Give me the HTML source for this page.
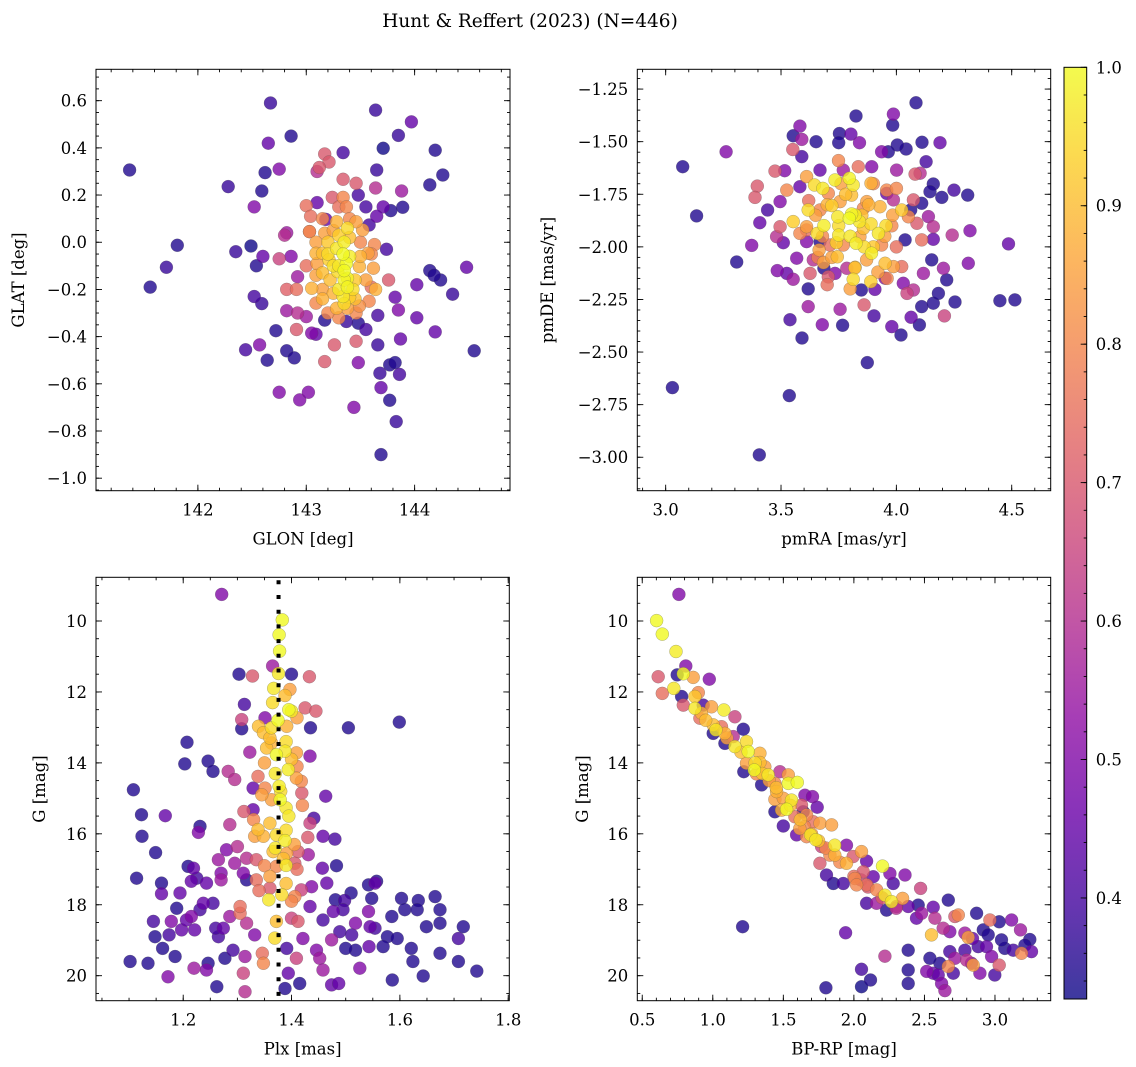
<!DOCTYPE html>
<html><head><meta charset="utf-8"><title>Hunt & Reffert (2023)</title>
<style>
html,body{margin:0;padding:0;background:#fff;}
svg{display:block;}
text{font-family:"DejaVu Serif","Liberation Serif",serif;fill:#000;}
</style></head>
<body>
<svg id="fig" width="1136" height="1067" viewBox="0 0 1136 1067" xmlns="http://www.w3.org/2000/svg">
<text x="530" y="27" text-anchor="middle" font-size="18.5">Hunt &amp; Reffert (2023) (N=446)</text>
</svg>
<script>
// ---------- Panel 1: GLON vs GLAT ----------
const p1Glon=[141.37,141.56,141.71,141.81,142.28,142.35,142.44,142.49,142.52,142.59,142.62,142.65,142.67,142.75,142.86,142.54,142.6,142.75,142.86,142.82,142.52,142.59,142.57,142.64,142.72,142.82,142.89,142.75,142.94,143.02,143.09,143.17,143.26,143.17,143.46,143.48,143.44,143.66,143.68,143.69,143.69,143.77,143.83,143.77,143.82,143.86,143.87,144.02,144.19,144.55,144.35,144.48,144.24,144.14,144.02,144.18,144.14,144.26,144.19,143.97,143.85,143.64,143.71,143.65,143.89,143.88,143.78,143.71,143.64,143.65,143.34,143.17,143.21,143.12,143.1,143.34,143.46,143.24,143.1,143.0,143.34,143.55,143.48,143.18,142.8,143.03,143.58,143.74,143.76,143.82,143.85,143.66,143.55,143.48,143.37,142.92,143.0,142.82,142.91,142.82,142.92,142.91,143.05,143.6,
143.35,143.38,143.28,143.37,143.21,143.29,143.38,143.43,143.4,143.34,143.15,143.15,143.49,143.62,143.64,143.63,143.52,143.28,143.17,143.09,143.09,143.09,143.05,143.15,143.28,143.38,143.49,143.58,143.03,143.04,143.37,143.46,143.57,143.22,143.25,143.09,143.46,143.34,143.35,143.3];
const p1Glat=[0.306,-0.19,-0.106,-0.013,0.236,-0.04,-0.456,-0.016,0.15,0.217,0.295,0.42,0.59,0.31,0.45,-0.10,-0.06,-0.07,-0.06,0.04,-0.23,-0.26,-0.435,-0.5,-0.375,-0.46,-0.49,-0.636,-0.668,-0.636,-0.39,-0.33,-0.435,-0.506,-0.42,-0.51,-0.70,-0.435,-0.555,-0.616,-0.90,-0.67,-0.76,-0.52,-0.51,-0.56,-0.41,-0.32,-0.38,-0.46,-0.22,-0.106,-0.16,-0.12,-0.18,-0.14,0.243,0.285,0.39,0.51,0.453,0.56,0.398,0.306,0.148,0.217,0.134,0.15,0.23,0.11,0.38,0.374,0.34,0.317,0.3,0.267,0.25,0.19,0.168,0.155,0.19,0.15,0.2,0.097,0.03,0.045,0.073,-0.03,-0.16,-0.233,-0.287,-0.31,-0.37,-0.343,-0.336,-0.30,-0.315,-0.29,-0.2,-0.2,-0.146,-0.37,-0.385,-0.19,
0.0,0.06,-0.026,-0.09,-0.075,-0.125,-0.153,-0.2,-0.233,-0.23,-0.047,-0.13,-0.103,-0.11,-0.2,-0.01,0.052,0.087,0.038,0.0,-0.047,-0.14,-0.195,-0.2,-0.28,-0.28,-0.27,-0.25,0.045,0.11,0.15,0.087,-0.047,-0.16,-0.216,-0.258,-0.3,-0.05,-0.16,-0.1];
const p1Prob=[.35,.35,.38,.35,.38,.38,.4,.33,.5,.35,.35,.45,.38,.5,.35,.35,.45,.65,.5,.55,.4,.38,.5,.35,.35,.35,.35,.5,.5,.5,.45,.35,.7,.7,.7,.5,.5,.38,.38,.45,.35,.35,.38,.35,.35,.4,.45,.45,.45,.35,.38,.45,.35,.35,.45,.35,.35,.35,.35,.45,.38,.38,.33,.38,.35,.55,.35,.45,.6,.45,.4,.7,.7,.7,.6,.7,.7,.7,.45,.75,.8,.4,.4,.45,.6,.75,.4,.4,.7,.45,.5,.4,.4,.35,.38,.6,.55,.55,.75,.72,.55,.7,.5,.75,
.98,.95,.97,1.0,.93,.95,.99,.95,.93,.97,.9,.9,.88,.85,.88,.8,.85,.88,.85,.85,.88,.85,.88,.85,.88,.85,.82,.8,.8,.75,.8,.85,.85,.9,.88,.8,.8,1.0,.99,.97];
const p1GlonExtra=[143.2,143.3,143.4,143.25,143.35,143.45,143.15,143.3,143.4,143.2,143.5,143.1,143.55,143.3,143.45,143.25,143.35,143.6,143.0,143.2,143.4,143.3,143.5,143.15,143.38];
const p1GlatExtra=[-0.05,0.03,-0.06,-0.1,-0.12,-0.16,-0.24,-0.2,0.02,0.0,-0.06,-0.09,-0.16,-0.32,-0.24,0.05,-0.26,-0.05,-0.1,-0.3,0.1,0.15,0.0,0.1,-0.19];
const p1ProbExtra=[.95,.93,.98,.96,1.0,.92,.88,.97,.9,.92,.88,.85,.85,.8,.9,.85,.95,.8,.75,.8,.8,.75,.8,.8,.99];
const p1XTicks=[142,143,144];
const p1XLabels=["142","143","144"];
const p1YTicks=[-1.0,-0.8,-0.6,-0.4,-0.2,0.0,0.2,0.4,0.6];
const p1YLabels=["\u22121.0","\u22120.8","\u22120.6","\u22120.4","\u22120.2","0.0","0.2","0.4","0.6"];

// ---------- Panel 2: pmRA vs pmDE ----------
const p2Pmra=[3.074,3.134,3.262,3.308,3.373,3.029,3.536,3.406,3.874,3.591,3.539,3.679,3.767,3.618,3.618,3.756,3.86,3.903,3.98,4.02,4.064,4.1,4.11,4.16,4.208,4.254,4.218,4.312,4.486,4.449,4.514,4.309,4.25,4.197,4.319,4.189,4.111,4.042,4.004,3.965,3.984,3.987,4.085,3.825,3.84,3.803,3.753,3.75,3.652,3.582,3.553,3.59,3.551,3.59,3.474,3.516,3.397,3.387,3.442,3.408,3.496,3.481,3.51,3.484,3.553,3.525,3.936,4.129,4.103,4.081,4.16,4.146,4.11,4.139,4.16,4.242,4.16,4.153,4.204,4.117,4.03,4.038,4.062,3.951,3.907,3.669,3.64,3.686,3.734,3.785,3.611,3.568,3.611,3.958,3.987,4.001,3.893,3.77,3.669,3.582,4.182,4.074,4.046,3.848,
3.796,3.813,3.734,3.681,3.645,3.806,3.806,3.796,3.821,3.746,3.72,3.686,3.657,3.75,3.825,3.892,3.89,3.922,3.955,3.857,3.929,3.872,3.756,3.618,3.553,3.611,3.582,3.665,3.684,3.744,3.821,3.813,3.889,3.871,3.951,3.987,4.023,3.984,4.052,3.89,3.958,4.0,3.749,3.835,3.611,3.525,3.842,3.77,3.712,3.936,4.11,4.089,4.074,3.705,3.626,3.496,4.023,3.705,3.857,3.669];
const p2Pmde=[-1.619,-1.853,-1.548,-2.072,-1.993,-2.669,-2.707,-2.989,-2.55,-2.433,-2.346,-2.37,-2.373,-2.284,-2.2,-2.297,-2.276,-2.328,-2.379,-2.419,-2.335,-2.371,-2.284,-2.268,-2.328,-2.262,-2.157,-2.078,-1.986,-2.256,-2.252,-1.754,-1.73,-1.765,-1.923,-1.505,-1.503,-1.535,-1.516,-1.548,-1.421,-1.369,-1.315,-1.378,-1.505,-1.464,-1.461,-1.505,-1.5,-1.426,-1.472,-1.489,-1.537,-1.571,-1.64,-1.638,-1.711,-1.765,-1.825,-1.885,-1.785,-1.951,-1.98,-2.113,-2.154,-2.126,-1.548,-1.595,-1.65,-1.654,-1.701,-1.738,-1.793,-1.856,-1.904,-1.944,-1.964,-2.062,-2.102,-2.126,-2.173,-1.967,-1.825,-2.149,-2.202,-1.975,-2.062,-2.102,-2.126,-2.102,-1.975,-2.054,-1.92,-1.746,-1.777,-1.635,-1.619,-1.635,-1.635,-1.714,-2.221,-2.205,-2.221,-2.205,
-1.674,-1.706,-1.682,-1.722,-1.706,-1.754,-1.844,-1.864,-1.849,-1.857,-1.804,-1.899,-1.936,-1.944,-1.983,-2.03,-1.891,-1.936,-1.899,-1.912,-1.809,-1.785,-1.785,-1.825,-1.88,-1.904,-1.936,-2.015,-2.075,-2.047,-2.097,-2.154,-2.165,-2.062,-2.078,-2.094,-1.825,-1.849,-1.857,-1.698,-1.73,-1.722,-1.59,-1.619,-1.666,-1.73,-1.952,-1.991,-1.991,-1.991,-1.967,-1.888,-1.777,-2.143,-2.126,-1.904,-2.094,-1.746,-1.817,-1.825];
const p2Prob=[.35,.35,.5,.35,.5,.35,.35,.35,.35,.35,.4,.5,.35,.55,.35,.55,.7,.4,.45,.35,.45,.35,.35,.35,.65,.35,.35,.5,.45,.35,.35,.35,.4,.35,.5,.45,.35,.35,.35,.35,.35,.5,.35,.35,.5,.45,.35,.35,.35,.5,.35,.55,.7,.4,.7,.5,.7,.7,.4,.45,.5,.6,.45,.5,.55,.45,.5,.4,.6,.7,.35,.35,.35,.55,.6,.6,.45,.35,.55,.55,.5,.35,.35,.5,.45,.35,.6,.35,.5,.6,.5,.5,.75,.45,.6,.55,.5,.55,.45,.45,.35,.6,.65,.35,
.99,.97,.98,.97,.95,.9,.99,1.0,.98,.97,.93,.98,.95,.97,.98,.98,.95,.97,.95,.9,.88,.85,.85,.95,.93,.85,.8,.85,.85,.9,.9,.95,.93,.85,.9,.85,.92,.85,.8,.88,.8,.8,.8,.75,.85,.8,.85,.8,.75,.8,.75,.7,.7,.7,.7,.7,.75,.8,.8,.8];
const p2PmraExtra=[3.75,3.8,3.85,3.7,3.9,3.95,3.65,3.78,3.88,3.72,3.82,3.92,3.68,3.98,3.76,3.86,3.62,4.0,3.8,3.7,3.9,3.84,3.74,3.96,3.66];
const p2PmdeExtra=[-1.9,-1.95,-1.85,-1.8,-2.0,-1.95,-1.85,-1.75,-1.8,-2.05,-2.1,-2.12,-1.95,-1.9,-1.7,-2.0,-1.78,-2.0,-2.2,-2.18,-1.7,-1.88,-1.98,-2.15,-2.05];
const p2ProbExtra=[.95,.97,.9,.88,.92,.85,.85,.9,.88,.85,.9,.85,.8,.8,.85,.95,.75,.75,.85,.75,.8,.97,.93,.8,.78];
const p2XTicks=[3.0,3.5,4.0,4.5];
const p2XLabels=["3.0","3.5","4.0","4.5"];
const p2YTicks=[-3.0,-2.75,-2.5,-2.25,-2.0,-1.75,-1.5,-1.25];
const p2YLabels=["\u22123.00","\u22122.75","\u22122.50","\u22122.25","\u22122.00","\u22121.75","\u22121.50","\u22121.25"];

// ---------- Panel 3: Plx vs G ----------
const p3Plx=[1.271,1.383,1.377,1.378,1.365,1.376,1.367,1.303,1.328,1.4,1.433,1.397,1.388,1.395,1.4,1.41,1.425,1.445,1.313,1.308,1.308,1.351,1.339,1.363,1.348,1.391,1.435,1.505,1.599,1.207,1.203,1.246,1.255,1.283,1.295,1.323,1.354,1.372,1.388,1.409,1.434,1.363,1.394,1.409,1.418,1.338,1.351,1.363,1.377,1.379,1.39,1.419,1.329,1.463,1.108,1.123,1.124,1.167,1.149,1.114,1.231,1.228,1.312,1.329,1.286,1.338,1.348,1.332,1.372,1.388,1.366,1.391,1.412,1.434,1.441,1.458,1.48,1.39,1.372,1.406,1.431,1.483,1.457,1.265,1.28,1.3,1.295,1.317,1.335,1.209,1.219,1.215,1.16,1.16,1.225,1.243,1.27,1.27,1.311,1.317,1.335,1.36,1.358,1.382,1.406,1.418,1.437,1.465,1.481,1.498,1.51,1.542,1.554,1.557,1.548,1.603,1.634,1.665,1.609,1.632,1.674,1.585,1.674,1.717,1.649,1.708,1.577,1.595,1.621,1.674,1.569,1.543,1.518,1.5,1.474,1.489,1.518,1.542,1.545,1.554,1.511,1.434,1.477,1.495,1.458,1.421,1.446,1.452,1.458,1.526,1.586,1.624,1.643,1.708,1.742,1.474,1.487,1.415,1.388,1.391,1.394,1.409,1.372,1.369,1.4,1.412,1.348,1.346,1.314,1.311,1.314,1.332,1.317,1.305,1.305,1.286,1.274,1.265,1.277,1.292,1.262,1.243,1.246,1.22,1.172,1.185,1.135,1.102,1.162,1.148,1.174,1.145,1.178,1.188,1.197,1.206,1.221,1.231,1.237,1.215,1.194,1.255,1.26];
const p3G=[9.25,9.97,10.39,10.85,11.27,11.48,11.9,11.5,11.55,11.5,11.57,11.93,12.1,12.5,12.54,12.73,12.45,12.54,12.35,12.78,13.04,12.73,12.97,13.01,13.15,12.97,13.01,13.01,12.85,13.42,14.03,13.95,14.24,14.24,14.47,13.7,13.58,13.77,13.67,13.72,13.81,13.44,14.19,14.43,14.52,14.38,14.71,15.04,14.66,15.04,15.27,14.85,14.71,14.94,14.76,15.46,16.07,15.49,16.53,17.25,15.79,15.96,15.37,15.32,15.74,15.88,16.07,16.07,16.03,16.19,16.5,16.55,16.5,15.7,15.56,16.07,16.15,16.89,16.92,16.83,16.59,16.9,16.97,16.73,16.45,16.36,16.83,16.69,16.73,16.92,16.97,17.34,17.39,17.69,17.25,17.39,17.11,17.3,17.11,17.3,17.3,17.53,17.86,17.72,17.77,17.58,17.49,17.39,17.86,17.88,17.67,17.44,17.39,17.34,17.82,17.82,17.88,17.77,18.14,18.14,18.14,18.33,18.52,18.62,18.62,18.95,18.9,18.95,19.23,19.37,19.18,19.18,19.28,19.23,18.99,18.76,18.52,18.19,18.62,18.66,18.85,18.05,18.19,18.14,18.43,18.95,19.28,19.51,19.84,19.79,20.12,19.6,20.01,19.6,19.87,20.26,20.22,20.22,20.36,19.23,19.93,19.51,18.47,18.94,18.38,18.47,19.65,19.37,19.46,19.93,20.45,18.85,18.52,18.24,18.05,18.33,18.66,18.9,19.51,19.28,20.31,19.84,19.65,19.79,20.03,19.46,19.65,19.6,19.23,18.9,18.85,18.47,18.47,18.1,18.71,18.43,18.71,18.14,17.96,18.33,17.67,17.96,18.66];
const p3Prob=[.5,1.0,1.0,1.0,.55,.97,.97,.35,.7,.35,.7,.85,.9,1.0,.97,.85,.7,.7,.4,.65,.35,.5,.9,.95,.9,.88,.35,.35,.35,.35,.35,.35,.35,.6,.6,.55,.9,1.0,.97,.85,.5,.88,.98,.85,.8,.75,.8,.85,.98,1.0,.97,.7,.45,.45,.35,.35,.35,.45,.35,.35,.35,.5,.7,.45,.6,.9,.88,.85,.95,.98,.9,.85,.7,.65,.4,.45,.4,.97,.8,.7,.55,.35,.45,.55,.5,.6,.55,.6,.7,.35,.45,.45,.35,.45,.4,.45,.5,.55,.5,.35,.75,.7,.97,.95,.8,.65,.5,.45,.35,.4,.35,.35,.45,.35,.35,.35,.35,.35,.35,.35,.35,.35,.35,.35,.35,.4,.35,.35,.35,.35,.35,.45,.35,.35,.55,.4,.5,.5,.45,.4,.4,.45,.45,.4,.4,.5,.5,.55,.55,.5,.35,.35,.35,.35,.35,.45,.45,.35,.35,.4,.45,.65,.9,.95,.65,.7,.8,.75,.55,.65,.6,.5,.6,.75,.75,.55,.45,.4,.35,.4,.35,.5,.35,.55,.5,.35,.35,.35,.35,.35,.4,.4,.5,.35,.45,.45,.45,.4,.45,.5,.45,.4,.4];
const p3PlxExtra=[1.36,1.39,1.4,1.35,1.37,1.41,1.38,1.345,1.395,1.42,1.36,1.39,1.33,1.405,1.37,1.385,1.35,1.41,1.36,1.39,1.43,1.34,1.4,1.375,1.365];
const p3GExtra=[13.3,13.4,13.9,14.0,14.3,14.1,14.8,14.9,15.5,15.2,15.7,15.9,15.6,16.3,16.4,16.7,16.9,17.0,17.2,17.4,16.1,17.6,17.9,12.8,12.3];
const p3ProbExtra=[.9,.95,.9,.85,.97,.8,.95,.85,.97,.8,.9,.95,.8,.85,.97,.9,.8,.75,.85,.9,.7,.75,.8,1.0,.95];
const p3RefPlx=[1.376];
const p3XTicks=[1.2,1.4,1.6,1.8];
const p3XLabels=["1.2","1.4","1.6","1.8"];
const p3YTicks=[10,12,14,16,18,20];
const p3YLabels=["10","12","14","16","18","20"];

// ---------- Panel 4: BP-RP vs G ----------
const p4Bprp=[0.76,0.602,0.642,0.739,0.613,0.642,0.724,0.748,0.809,0.791,0.861,0.975,0.779,0.791,0.873,0.897,0.932,0.873,0.92,0.991,1.079,0.909,1.003,1.022,1.003,1.086,1.062,1.216,1.145,1.157,1.086,1.157,1.239,1.251,1.239,1.334,1.334,1.294,1.369,1.393,1.31,1.22,1.346,1.476,1.44,1.452,1.44,1.535,1.535,1.599,1.558,1.523,1.488,1.44,1.5,1.582,1.629,1.653,1.707,1.641,1.665,1.712,1.76,1.74,1.617,1.594,1.665,1.693,1.731,1.842,1.865,1.83,1.865,1.771,1.948,1.948,2.054,1.995,2.09,1.759,1.806,1.854,1.925,2.007,2.066,2.137,2.203,2.255,2.362,2.279,2.09,2.161,2.019,2.09,2.161,2.22,2.267,2.345,2.232,2.302,2.385,2.473,2.456,2.48,2.562,2.669,2.574,2.444,2.55,2.633,2.716,2.74,2.68,2.787,2.81,2.87,2.964,3.03,3.118,3.181,2.917,2.952,2.94,2.976,3.07,3.046,3.129,3.247,3.212,3.259,3.188,2.881,2.841,2.787,2.834,2.799,2.846,2.893,2.999,3.03,2.716,2.68,2.669,2.705,2.61,2.562,2.539,2.516,2.598,2.622,2.645,2.385,2.385,2.385,2.22,2.054,2.118,2.054,1.802,1.941,1.211];
const p4G=[9.25,9.99,10.37,10.86,11.57,12.04,11.9,11.52,11.27,11.49,11.59,11.64,12.13,12.37,12.13,12.02,12.37,12.46,12.6,12.42,12.51,12.74,12.93,13.07,13.17,13.17,12.98,13.05,13.26,12.7,13.45,13.54,13.4,13.68,14.01,13.73,13.99,14.2,14.11,14.34,14.31,14.25,14.62,14.25,14.58,14.81,15.03,14.34,14.58,14.55,15.05,15.31,15.33,15.38,15.78,15.52,15.19,14.91,14.95,15.38,15.47,15.66,15.7,15.25,15.85,16.03,16.08,16.03,16.17,15.75,16.32,16.6,16.6,16.36,16.32,16.83,16.5,16.64,16.77,16.83,17.16,17.4,17.4,17.26,17.07,17.21,16.91,17.12,17.16,17.4,17.44,17.58,17.44,17.96,17.96,17.73,17.91,17.82,18.15,18.05,18.05,17.54,18.01,18.24,18.07,17.87,18.38,18.38,18.85,18.66,18.33,18.29,18.76,18.8,18.92,18.24,18.43,18.48,18.43,18.71,18.71,18.85,19.18,19.46,19.23,18.99,19.28,18.98,19.14,19.32,19.37,19.18,18.95,19.28,19.65,19.56,19.7,19.93,19.98,19.7,19.51,19.32,19.74,19.93,19.65,19.93,19.51,19.88,19.98,20.22,20.42,19.28,19.84,20.22,19.45,19.82,20.12,20.31,20.34,18.79,18.62];
const p4Prob=[.5,1.0,1.0,.98,.7,.75,.97,.35,.5,1.0,.85,.5,.35,.7,.92,.8,.4,.97,.88,.85,.98,.75,.9,.97,.35,.88,.75,.35,.6,.65,.35,.97,.95,1.0,.85,.88,.9,1.0,.85,.97,.8,.35,.35,.6,.8,.88,.85,.85,1.0,1.0,.97,1.0,.88,.35,.4,.75,.7,.5,.5,.35,.8,.75,.85,.45,.85,.45,.8,.97,.97,.85,.97,.8,.88,.65,.5,.88,.85,.7,.45,.7,.4,.35,.4,.8,.7,.45,1.0,.5,.5,.4,.75,.8,.8,.4,.55,.97,.97,.85,.35,.6,.45,.65,.35,.55,.45,.35,.6,.45,.9,.6,.7,.8,.5,.55,.85,.35,.75,.35,.5,.55,.35,.35,.45,.5,.35,.35,.4,.35,.35,.45,.8,.4,.45,.4,.5,.6,.85,.5,.4,.7,.55,.4,.8,.4,.35,.45,.35,.5,.45,.5,.55,.35,.35,.35,.6,.4,.35,.33,.35,.45,.35];
const p4BprpExtra=[0.95,1.1,1.2,1.3,1.4,1.45,1.55,1.62,1.7,1.8,1.9,2.0,2.1,2.2,2.3,1.35,1.5,1.65,1.75,2.05];
const p4GExtra=[12.8,13.3,13.7,14.0,14.5,14.7,15.2,15.6,16.0,16.4,16.8,17.2,17.5,17.8,18.1,14.3,15.0,15.8,16.2,17.3];
const p4ProbExtra=[.9,.85,.9,.95,.85,.9,.88,.9,.85,.8,.8,.75,.7,.7,.6,.92,.85,.8,.9,.65];
const p4XTicks=[0.5,1.0,1.5,2.0,2.5,3.0];
const p4XLabels=["0.5","1.0","1.5","2.0","2.5","3.0"];
const p4YTicks=[10,12,14,16,18,20];
const p4YLabels=["10","12","14","16","18","20"];

// ---------- Colorbar ----------
const cbTicks=[0.4,0.5,0.6,0.7,0.8,0.9,1.0];
const cbLabels=["0.4","0.5","0.6","0.7","0.8","0.9","1.0"];
const cbMin=0.327, cbMax=1.0;

const NS="http://www.w3.org/2000/svg";
const svg=document.getElementById('fig');
const FS=16.5;
function mk(tag,attrs,parent){const e=document.createElementNS(NS,tag);for(const k in attrs)e.setAttribute(k,attrs[k]);(parent||svg).appendChild(e);return e;}

const plasma=["#0d0887","#41049d","#6a00a8","#8f0da4","#b12a90","#cc4778","#e16462","#f2844b","#fca636","#fcce25","#f0f921"];
function hex(h){return [parseInt(h.substr(1,2),16),parseInt(h.substr(3,2),16),parseInt(h.substr(5,2),16)];}
function cmap(v){let t=(v-cbMin)/(cbMax-cbMin);t=Math.max(0,Math.min(1,t));const s=t*10;const i=Math.min(9,Math.floor(s));const f=s-i;const a=hex(plasma[i]),b=hex(plasma[i+1]);return 'rgb('+a.map((c,k)=>Math.round(c+(b[k]-c)*f)).join(',')+')';}

function makeScale(d0,d1,r0,r1){return v=>r0+(v-d0)/(d1-d0)*(r1-r0);}

function panel(cfg){
  const g=mk('g',{});
  
  
  const sx=makeScale(cfg.xd[0],cfg.xd[1],cfg.L,cfg.R);
  const sy=makeScale(cfg.yd[0],cfg.yd[1],cfg.B,cfg.T);
  const pg=mk('g',{},g);
  
  
  const idx=cfg.xs.map((_,i)=>i).sort((a,b)=>cfg.ps[a]-cfg.ps[b]);
  idx.forEach(i=>{
    const c=mk('circle',{cx:sx(cfg.xs[i]).toFixed(1),cy:sy(cfg.ys[i]).toFixed(1),r:6.5,fill:cmap(cfg.ps[i]),'fill-opacity':0.8,stroke:'#505050','stroke-opacity':0.45,'stroke-width':0.5},pg);
    
    
  });
  if(cfg.vline){
    cfg.vline.forEach(v=>{
      const l=mk('line',{x1:sx(v),x2:sx(v),y1:cfg.T+3,y2:cfg.B,stroke:'#000','stroke-width':4,'stroke-dasharray':'4 10.7'},g);
      
      
    });
  }
  const fr=mk('rect',{x:cfg.L,y:cfg.T,width:cfg.R-cfg.L,height:cfg.B-cfg.T,fill:'none',stroke:'#000','stroke-width':1},g);
  
  
  const tg=mk('g',{stroke:'#000','stroke-width':0.9},g);
  
  
  const eps=1e-9;
  function minors(d,step){const lo=Math.min(d[0],d[1]),hi=Math.max(d[0],d[1]);const out=[];for(let v=Math.ceil(lo/step-eps)*step;v<=hi+eps;v+=step)out.push(v);return out;}
  minors(cfg.xd,cfg.xmin).forEach(v=>{const x=sx(v);mk('line',{x1:x,x2:x,y1:cfg.B,y2:cfg.B-3},tg);mk('line',{x1:x,x2:x,y1:cfg.T,y2:cfg.T+3},tg);});
  minors(cfg.yd,cfg.ymin).forEach(v=>{const y=sy(v);mk('line',{x1:cfg.L,x2:cfg.L+3,y1:y,y2:y},tg);mk('line',{x1:cfg.R,x2:cfg.R-3,y1:y,y2:y},tg);});
  cfg.xt.forEach((v,i)=>{const x=sx(v);mk('line',{x1:x,x2:x,y1:cfg.B,y2:cfg.B-6},tg);mk('line',{x1:x,x2:x,y1:cfg.T,y2:cfg.T+6},tg);
    const t=mk('text',{x:x,y:cfg.B+25,'text-anchor':'middle','font-size':FS},g);t.textContent=cfg.xl[i];
    
    });
  cfg.yt.forEach((v,i)=>{const y=sy(v);mk('line',{x1:cfg.L,x2:cfg.L+6,y1:y,y2:y},tg);mk('line',{x1:cfg.R,x2:cfg.R-6,y1:y,y2:y},tg);
    const t=mk('text',{x:cfg.L-9,y:y+6,'text-anchor':'end','font-size':FS},g);t.textContent=cfg.yl[i];
    
    });
  const xt=mk('text',{x:(cfg.L+cfg.R)/2,y:cfg.B+54,'text-anchor':'middle','font-size':FS},g);xt.textContent=cfg.xtitle;
  
  
  const yx=cfg.ytx, ymid=(cfg.T+cfg.B)/2;
  const yt=mk('text',{x:yx,y:ymid,'text-anchor':'middle','font-size':FS,transform:'rotate(-90 '+yx+' '+ymid+')'},g);yt.textContent=cfg.ytitle;
  
  
}

panel({name:'glon-glat-panel',L:96,R:510,T:69.3,B:490.7,xd:[141.06,144.88],yd:[-1.053,0.733],xs:p1Glon.concat(p1GlonExtra),ys:p1Glat.concat(p1GlatExtra),ps:p1Prob.concat(p1ProbExtra),xt:p1XTicks,xl:p1XLabels,yt:p1YTicks,yl:p1YLabels,xmin:0.2,ymin:0.05,xtitle:'GLON [deg]',ytitle:'GLAT [deg]',ytx:24});
panel({name:'pm-panel',L:637.3,R:1050.7,T:69.3,B:490.7,xd:[2.877,4.669],yd:[-3.159,-1.156],xs:p2Pmra.concat(p2PmraExtra),ys:p2Pmde.concat(p2PmdeExtra),ps:p2Prob.concat(p2ProbExtra),xt:p2XTicks,xl:p2XLabels,yt:p2YTicks,yl:p2YLabels,xmin:0.1,ymin:0.05,xtitle:'pmRA [mas/yr]',ytitle:'pmDE [mas/yr]',ytx:553});
panel({name:'plx-g-panel',L:96,R:509.3,T:577.3,B:1000.7,xd:[1.039,1.802],yd:[20.705,8.768],xs:p3Plx.concat(p3PlxExtra),ys:p3G.concat(p3GExtra),ps:p3Prob.concat(p3ProbExtra),vline:p3RefPlx,xt:p3XTicks,xl:p3XLabels,yt:p3YTicks,yl:p3YLabels,xmin:0.05,ymin:0.5,xtitle:'Plx [mas]',ytitle:'G [mag]',ytx:45});
panel({name:'cmd-panel',L:637.3,R:1050.7,T:577.3,B:1000.7,xd:[0.465,3.395],yd:[20.705,8.768],xs:p4Bprp.concat(p4BprpExtra),ys:p4G.concat(p4GExtra),ps:p4Prob.concat(p4ProbExtra),xt:p4XTicks,xl:p4XLabels,yt:p4YTicks,yl:p4YLabels,xmin:0.1,ymin:0.5,xtitle:'BP-RP [mag]',ytitle:'G [mag]',ytx:588});

(function(){
  const L=1064,R=1086.7,T=67.3,B=999;
  const g=mk('g',{});
  
  
  const defs=mk('defs',{},g);
  const lg=mk('linearGradient',{id:'cbg',x1:0,y1:1,x2:0,y2:0},defs);
  plasma.forEach((c,i)=>mk('stop',{offset:i/10,'stop-color':c},lg));
  const r=mk('rect',{x:L,y:T,width:R-L,height:B-T,fill:'url(#cbg)','fill-opacity':0.8},g);
  
  
  mk('rect',{x:L,y:T,width:R-L,height:B-T,fill:'none',stroke:'#000','stroke-width':1},g);
  const sy=makeScale(cbMin,cbMax,B,T);
  for(let v=0.34;v<=1.0001;v+=0.02){const y=sy(v);mk('line',{x1:R,x2:R-3,y1:y,y2:y,stroke:'#000','stroke-width':0.9},g);}
  cbTicks.forEach((v,i)=>{const y=sy(v);mk('line',{x1:R,x2:R-6,y1:y,y2:y,stroke:'#000','stroke-width':0.9},g);
    const t=mk('text',{x:R+9,y:y+6,'font-size':FS},g);t.textContent=cbLabels[i];
    
    });
})();
</script>
</body></html>
